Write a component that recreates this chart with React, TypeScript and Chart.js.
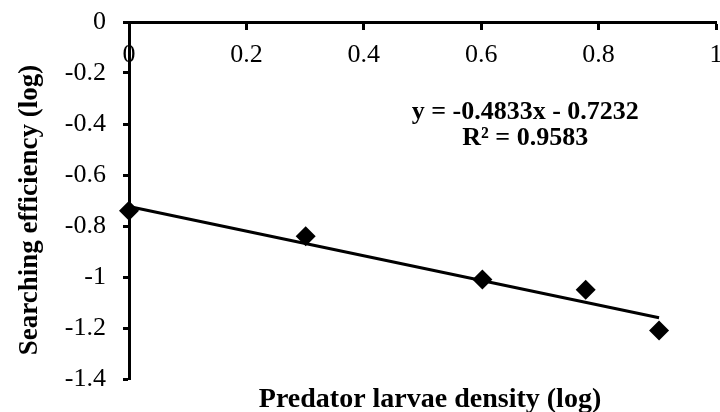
import React, { useEffect, useRef } from 'react';
import { Chart, registerables } from 'chart.js';

Chart.register(...registerables);

const xValues = [0, 0.301, 0.602, 0.778, 0.903];
const yValues = [-0.74, -0.84, -1.01, -1.05, -1.21];
const xTicks = [0, 0.2, 0.4, 0.6, 0.8, 1];
const xTickLabels = ['0', '0.2', '0.4', '0.6', '0.8', '1'];
const yTicks = [0, -0.2, -0.4, -0.6, -0.8, -1, -1.2, -1.4];
const yTickLabels = ['0', '-0.2', '-0.4', '-0.6', '-0.8', '-1', '-1.2', '-1.4'];
const slope = -0.4833;
const intercept = -0.7232;
const equationLines = ['y = -0.4833x - 0.7232', 'R\u00B2 = 0.9583'];
const equationAnchor = [0.675, -0.38];
const xTitle = 'Predator larvae density (log)';
const yTitle = 'Searching efficiency (log)';

const FONT = "'Liberation Serif', 'Times New Roman', serif";
const PLOT_RIGHT_MARGIN = 4;

const labelFor = (ticks: number[], labels: string[]) => (value: number) => {
  const i = ticks.findIndex((t) => Math.abs(t - Number(value)) < 1e-9);
  return i >= 0 ? labels[i] : '';
};

const widenPlugin = {
  id: 'widenPlugin',
  afterLayout(chart: any) {
    const target = chart.width - PLOT_RIGHT_MARGIN;
    const area = chart.chartArea;
    area.right = target;
    area.width = target - area.left;
    const x = chart.scales.x;
    x.right = target;
    x.width = target - x.left;
    x.configure();
    x._gridLineItems = null;
    x._labelItems = null;
    x._labelSizes = x._labelSizes;
  },
};

const textPlugin = {
  id: 'textPlugin',
  afterDraw(chart: any) {
    const { ctx, scales } = chart;
    ctx.save();
    ctx.fillStyle = '#000';
    ctx.textAlign = 'center';
    ctx.textBaseline = 'alphabetic';
    ctx.font = `bold 26px ${FONT}`;
    const ex = scales.x.getPixelForValue(equationAnchor[0]);
    const ey = scales.y.getPixelForValue(equationAnchor[1]);
    equationLines.forEach((line, i) => ctx.fillText(line, ex, ey + i * 26));
    ctx.font = `bold 28px ${FONT}`;
    ctx.fillText(xTitle, 430, 407);
    ctx.font = `bold 27px ${FONT}`;
    ctx.translate(37, 210);
    ctx.rotate(-Math.PI / 2);
    ctx.fillText(yTitle, 0, 0);
    ctx.restore();
  },
};

export default function App() {
  const ref = useRef<HTMLCanvasElement | null>(null);
  useEffect(() => {
    if (!ref.current) return;
    const xMax = Math.max(...xValues);
    const trend = [
      { x: 0, y: intercept },
      { x: xMax, y: slope * xMax + intercept },
    ];
    const chart = new Chart(ref.current, {
      type: 'scatter',
      data: {
        datasets: [
          {
            data: trend,
            showLine: true,
            borderColor: '#000',
            borderWidth: 3,
            pointRadius: 0,
            clip: false,
          },
          {
            data: xValues.map((x, i) => ({ x, y: yValues[i] })),
            pointStyle: 'rectRot',
            pointRadius: 10,
            borderWidth: 0,
            backgroundColor: '#000',
            borderColor: '#000',
            clip: false,
          },
        ],
      },
      options: {
        responsive: false,
        animation: false,
        events: [],
        layout: { padding: { left: 0, top: 22, right: 0, bottom: 33 } },
        plugins: { legend: { display: false }, tooltip: { enabled: false } },
        scales: {
          x: {
            type: 'linear',
            min: 0,
            max: 1,
            position: { y: 0 } as any,
            afterBuildTicks: (s: any) => {
              s.ticks = xTicks.map((v) => ({ value: v }));
            },
            afterFit: (s: any) => {
              s.paddingLeft = 0;
              s.paddingRight = 0;
            },
            grid: { drawOnChartArea: false, drawTicks: true, tickLength: 6, tickWidth: 3, tickColor: '#000' },
            border: { display: true, width: 3, color: '#000' },
            ticks: {
              autoSkip: false,
              maxRotation: 0,
              padding: 12,
              color: '#000',
              font: { family: FONT, size: 26 },
              callback: labelFor(xTicks, xTickLabels),
            },
          },
          y: {
            type: 'linear',
            min: -1.4,
            max: 0,
            position: 'left',
            afterBuildTicks: (s: any) => {
              s.ticks = yTicks.map((v) => ({ value: v }));
            },
            afterFit: (s: any) => {
              s.width = 129;
              s.paddingTop = 0;
              s.paddingBottom = 0;
            },
            grid: { drawOnChartArea: false, drawTicks: true, tickLength: 6, tickWidth: 3, tickColor: '#000' },
            border: { display: true, width: 3, color: '#000' },
            ticks: {
              autoSkip: false,
              padding: 17,
              color: '#000',
              font: { family: FONT, size: 26 },
              callback: labelFor(yTicks, yTickLabels),
            },
          },
        },
      },
      plugins: [widenPlugin, textPlugin],
    } as any);
    return () => chart.destroy();
  }, []);
  return (
    <div style={{ position: 'fixed', left: 0, top: 0, width: 720, height: 412, background: '#fff' }}>
      <canvas ref={ref} width={720} height={412} />
    </div>
  );
}
